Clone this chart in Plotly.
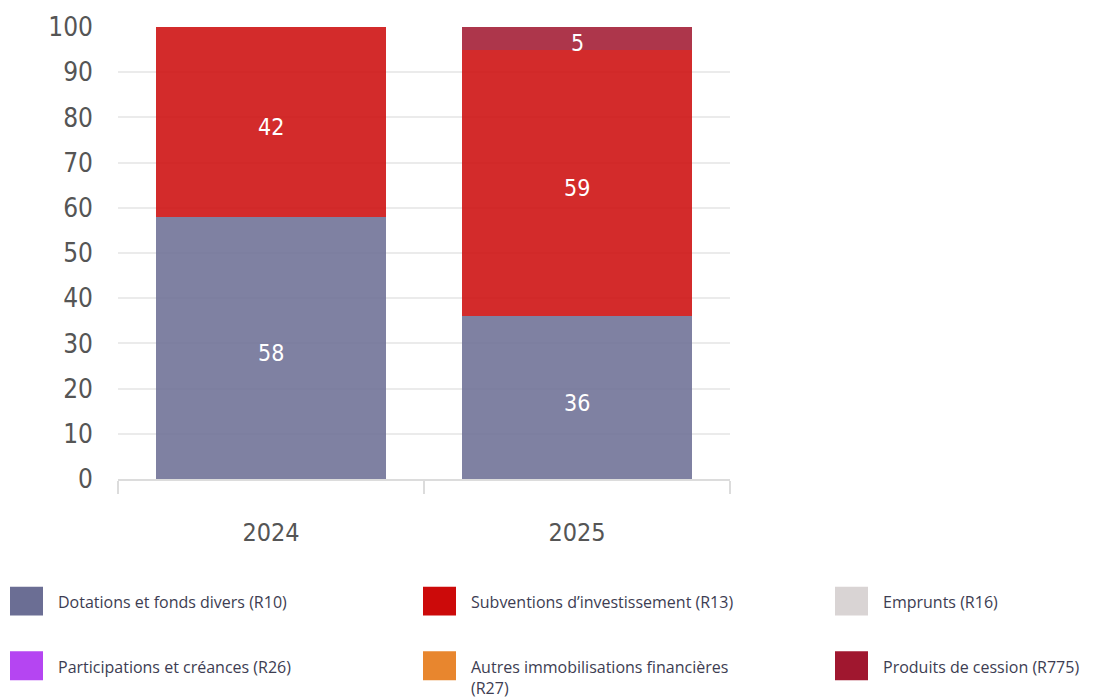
import plotly.graph_objects as go

# Data
years = ["2024", "2025"]
series_names = [
    "Dotations et fonds divers (R10)",
    "Subventions d’investissement (R13)",
    "Emprunts (R16)",
    "Participations et créances (R26)",
    "Autres immobilisations financières<br>(R27)",
    "Produits de cession (R775)",
]
dotations = [58, 36]
subventions = [42, 59]
emprunts = [0, 0]
participations = [0, 0]
autres_immo = [0, 0]
produits_cession = [0, 5]
series_values = [dotations, subventions, emprunts, participations, autres_immo, produits_cession]
series_colors = ["#6b6e94", "#cc0a0a", "#d9d4d4", "#b545f2", "#e8862e", "#a0172f"]
y_ticks = [0, 10, 20, 30, 40, 50, 60, 70, 80, 90, 100]

W, H = 1098, 699
ML, MR, MT, MB = 118, 368, 24, 220
PW, PH = W - ML - MR, H - MT - MB

tick_font = "DejaVu Sans Condensed, Roboto, sans-serif"

fig = go.Figure()
for name, vals, col in zip(series_names, series_values, series_colors):
    fig.add_trace(go.Bar(
        x=years, y=vals, name=name,
        marker=dict(color=col, opacity=0.865, line=dict(width=0)),
        showlegend=False, hoverinfo="skip",
    ))

# Value labels centred in each stacked segment (category index on the x axis)
annotations = []
for yi, year in enumerate(years):
    base = 0
    for vals in series_values:
        v = vals[yi]
        if v:
            annotations.append(dict(
                x=yi, y=base + v / 2, xref="x", yref="y",
                text=str(v), showarrow=False, yshift=-5,
                font=dict(family=tick_font, size=23, color="white"),
            ))
        base += v


def px_x(px):
    return (px - ML) / PW


def px_y(py):
    return (H - MB - py) / PH


# Legend drawn as swatches + labels in three columns
shapes = []
col_x = [10, 423, 835]
row_y = [602, 667]
for i, (name, col) in enumerate(zip(series_names, series_colors)):
    r, c = divmod(i, 3)
    x0 = col_x[c]
    yc = row_y[r]
    shapes.append(dict(type="rect", xref="paper", yref="paper",
                       x0=px_x(x0), x1=px_x(x0 + 33),
                       y0=px_y(yc + 14.5), y1=px_y(yc - 14.5),
                       fillcolor=col, line=dict(width=0)))
    annotations.append(dict(xref="paper", yref="paper",
                            x=px_x(x0 + 46), y=px_y(yc - 12),
                            xanchor="left", yanchor="top",
                            text=name, showarrow=False, align="left",
                            font=dict(family="Open Sans, sans-serif", size=16, color="#3d3d52")))

fig.update_layout(
    width=W, height=H,
    margin=dict(l=ML, r=MR, t=MT, b=MB, pad=0),
    paper_bgcolor="white", plot_bgcolor="white",
    barmode="stack", bargap=0.25,
    shapes=shapes, annotations=annotations,
    xaxis=dict(
        type="category", range=[-0.5, 1.5],
        showline=True, linecolor="#dcdcdc", linewidth=2,
        ticks="outside", tickson="boundaries", ticklen=13, tickcolor="#dcdcdc", tickwidth=2,
        ticklabelstandoff=30,
        tickfont=dict(family=tick_font, size=25, color="#555555"),
        showgrid=False, fixedrange=True,
    ),
    yaxis=dict(
        range=[0, 100], tickvals=y_ticks,
        showgrid=True, gridcolor="#ebebeb", gridwidth=2,
        zeroline=False, showline=False, ticks="",
        ticklabelstandoff=24,
        tickfont=dict(family=tick_font, size=26, color="#555555"),
        fixedrange=True,
    ),
)

fig.write_html("out.html")
